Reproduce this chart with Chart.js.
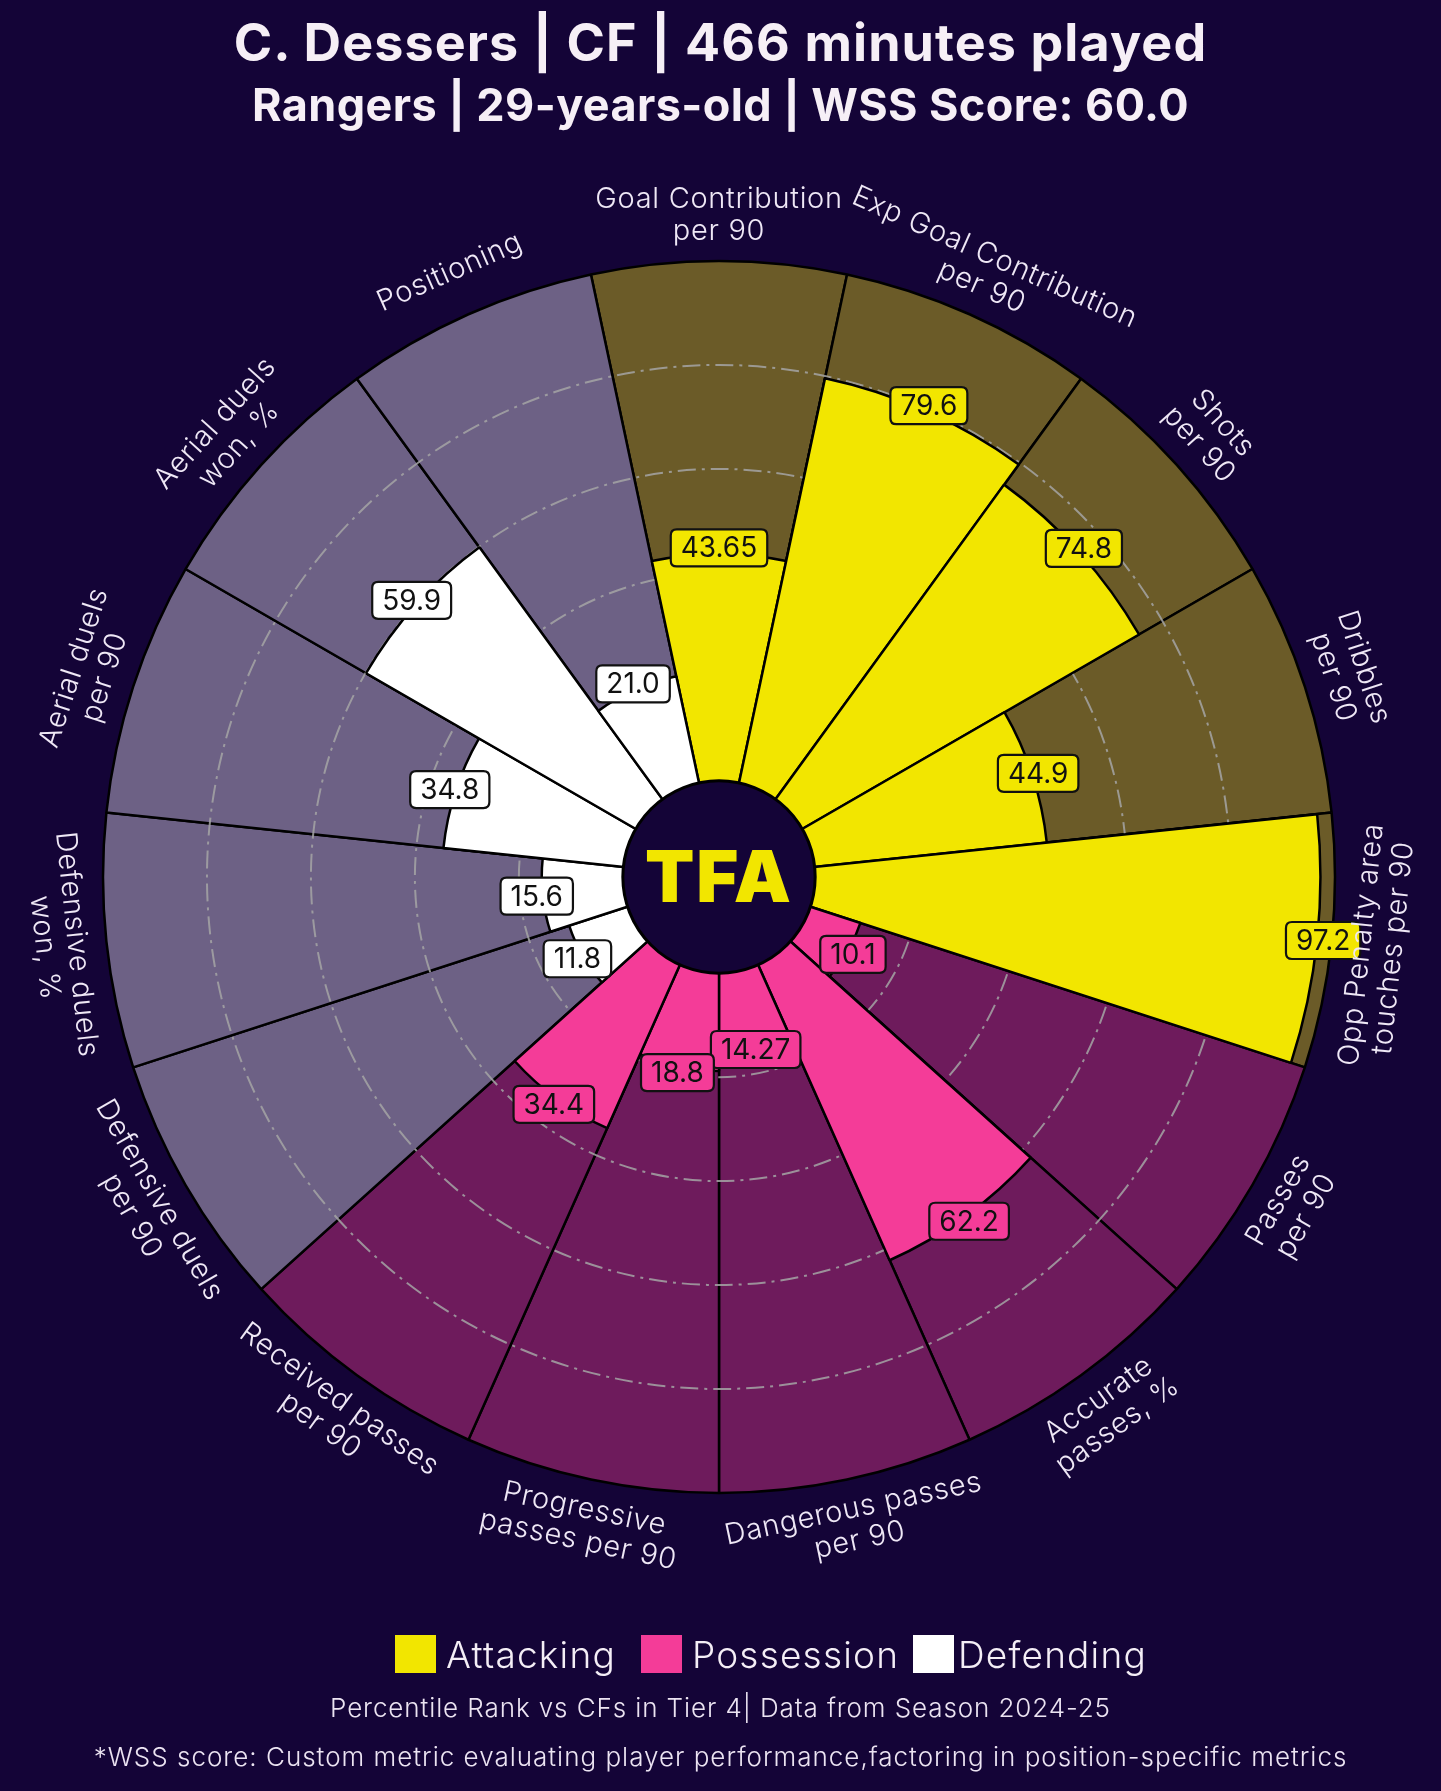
<!DOCTYPE html>
<html><head><meta charset="utf-8">
<script src="https://cdn.jsdelivr.net/npm/chart.js@4.4.1/dist/chart.umd.min.js"></script>
<style>
html,body{margin:0;padding:0;background:#140437;}
#wrap{position:relative;width:1441px;height:1791px;overflow:hidden;background:#140437;}
canvas{position:absolute;left:0;top:0;}
.t{position:absolute;left:0;width:1441px;text-align:center;color:#f6eff6;font-family:Inter,"Open Sans",sans-serif;white-space:nowrap;line-height:1;}
#title{top:17px;font-size:52px;font-weight:700;letter-spacing:1.1px;}
#subtitle{top:82px;font-size:45px;font-weight:700;letter-spacing:0.4px;}
.sq{position:absolute;width:41px;height:38px;top:1635px;}
.lg{position:absolute;top:1636px;font-size:37px;line-height:1;color:#f4eef6;font-family:Inter,sans-serif;font-weight:300;white-space:nowrap;letter-spacing:1.2px;}
#f1{top:1695px;font-size:26px;font-weight:300;color:#ece4f2;letter-spacing:0.9px;}
#f2{top:1744px;font-size:26px;font-weight:300;color:#ece4f2;letter-spacing:1px;}
</style></head>
<body><div id="wrap">
<canvas id="c" width="1441" height="1791"></canvas>
<div class="t" id="title">C. Dessers | CF | 466 minutes played</div>
<div class="t" id="subtitle">Rangers | 29-years-old | WSS Score: 60.0</div>
<div id="legend"></div>
<div class="t" id="f1">Percentile Rank vs CFs in Tier 4| Data from Season 2024-25</div>
<div class="t" id="f2">*WSS score: Custom metric evaluating player performance,factoring in position-specific metrics</div>
</div>
<script>
// ---- data ----
const categories = [
  "Goal Contribution\nper 90",
  "Exp Goal Contribution\nper 90",
  "Shots\nper 90",
  "Dribbles\nper 90",
  "Opp Penalty area\ntouches per 90",
  "Passes\nper 90",
  "Accurate\npasses, %",
  "Dangerous passes\nper 90",
  "Progressive\npasses per 90",
  "Received passes\nper 90",
  "Defensive duels\nper 90",
  "Defensive duels\nwon, %",
  "Aerial duels\nper 90",
  "Aerial duels\nwon, %",
  "Positioning"
];
const values = [43.65, 79.6, 74.8, 44.9, 97.2, 10.1, 62.2, 14.27, 18.8, 34.4, 11.8, 15.6, 34.8, 59.9, 21.0];
const groups = ["Attacking","Attacking","Attacking","Attacking","Attacking",
  "Possession","Possession","Possession","Possession","Possession",
  "Defending","Defending","Defending","Defending","Defending"];
const groupNames = ["Attacking","Possession","Defending"];
const maxValues = categories.map(() => 100);
const gridValues = [20, 40, 60, 80];

// ---- styles ----
const BG = "#140437";
const groupColor = {Attacking:"#f2e600", Possession:"#f43c98", Defending:"#ffffff"};
const groupBg = {Attacking:"#6b5b28", Possession:"#6e1b5c", Defending:"#6d6185"};
const legendX = {Attacking:[395,446], Possession:[641,692], Defending:[913,958]};

// legend (HTML)
const lg = document.getElementById('legend');
groupNames.forEach(g => {
  const s = document.createElement('div'); s.className='sq';
  s.style.left = legendX[g][0]+'px'; s.style.background = groupColor[g]; lg.appendChild(s);
  const t = document.createElement('div'); t.className='lg';
  t.style.left = legendX[g][1]+'px'; t.textContent = g; lg.appendChild(t);
});

function fmt(v){ return Number.isInteger(v) ? v.toFixed(1) : String(v); }

function roundRect(ctx,x,y,w,h,r){
  ctx.beginPath();
  ctx.moveTo(x+r,y); ctx.lineTo(x+w-r,y); ctx.quadraticCurveTo(x+w,y,x+w,y+r);
  ctx.lineTo(x+w,y+h-r); ctx.quadraticCurveTo(x+w,y+h,x+w-r,y+h);
  ctx.lineTo(x+r,y+h); ctx.quadraticCurveTo(x,y+h,x,y+h-r);
  ctx.lineTo(x,y+r); ctx.quadraticCurveTo(x,y,x+r,y); ctx.closePath();
}

const pizza = {
  id:'pizza',
  beforeDatasetDraw(chart, args){
    if (args.index !== 0) return;
    const s = chart.scales.r, ctx = chart.ctx;
    ctx.save();
    ctx.strokeStyle = "rgba(165,165,165,0.85)";
    ctx.lineWidth = 2;
    ctx.setLineDash([18,6,3,6]);
    gridValues.forEach(v => {
      ctx.beginPath();
      ctx.arc(s.xCenter, s.yCenter, s.getDistanceFromCenterForValue(v), 0, Math.PI*2);
      ctx.stroke();
    });
    ctx.restore();
  },
  afterDatasetsDraw(chart){
    const s = chart.scales.r, ctx = chart.ctx;
    const cx = s.xCenter, cy = s.yCenter;
    // centre circle with logo
    const r0 = s.getDistanceFromCenterForValue(0);
    ctx.save();
    ctx.beginPath(); ctx.arc(cx, cy, r0, 0, Math.PI*2);
    ctx.fillStyle = BG; ctx.fill();
    ctx.lineWidth = 3; ctx.strokeStyle = "#000"; ctx.stroke();
    ctx.fillStyle = "#f2e600";
    ctx.font = "900 72px Inter, sans-serif";
    ctx.letterSpacing = "2px";
    ctx.textAlign = "center"; ctx.textBaseline = "middle";
    ctx.fillText("TFA", cx, cy + 3);
    ctx.restore();

    // value labels
    const meta = chart.getDatasetMeta(0);
    ctx.save();
    ctx.font = "400 28px Inter, sans-serif";
    ctx.textAlign = "center"; ctx.textBaseline = "middle";
    meta.data.forEach((arc, i) => {
      const mid = (arc.startAngle + arc.endAngle)/2;
      const r = arc.outerRadius + 6;
      const x = arc.x + r*Math.cos(mid), y = arc.y + r*Math.sin(mid);
      const txt = fmt(values[i]);
      const w = ctx.measureText(txt).width + 20, h = 37;
      roundRect(ctx, x - w/2, y - h/2, w, h, 6);
      ctx.fillStyle = groupColor[groups[i]]; ctx.fill();
      ctx.lineWidth = 2.2; ctx.strokeStyle = "#111"; ctx.stroke();
      ctx.fillStyle = "#111";
      ctx.fillText(txt, x, y + 1);
    });
    ctx.restore();

    // category labels
    ctx.save();
    ctx.font = "300 29px Inter, sans-serif";
    ctx.letterSpacing = "0.7px";
    ctx.fillStyle = "#efe8f6";
    ctx.textAlign = "center"; ctx.textBaseline = "middle";
    const R = s.drawingArea + 46;
    meta.data.forEach((arc, i) => {
      const mid = (arc.startAngle + arc.endAngle)/2;
      const x = cx + R*Math.cos(mid), y = cy + R*Math.sin(mid);
      let th = (mid*180/Math.PI) + 90; // clockwise from top
      th = ((th % 360) + 540) % 360 - 180;
      let rot = th;
      if (th > 90) rot = th - 180; else if (th < -90) rot = th + 180;
      const lines = categories[i].split("\n");
      const lh = 32;
      ctx.save();
      ctx.translate(x, y); ctx.rotate(rot*Math.PI/180);
      lines.forEach((ln, k) => {
        ctx.fillText(ln, 0, (k - (lines.length-1)/2)*lh);
      });
      ctx.restore();
    });
    ctx.restore();
  }
};

new Chart(document.getElementById('c'), {
  type: 'polarArea',
  data: {
    labels: categories,
    datasets: [
      { data: values, backgroundColor: groups.map(g => groupColor[g]), borderColor: "#000", borderWidth: 2.5 },
      { data: maxValues, backgroundColor: groups.map(g => groupBg[g]), borderColor: "#000", borderWidth: 2.5 }
    ]
  },
  options: {
    responsive: false,
    animation: false,
    layout: { padding: { left: 103, right: 106, top: 261, bottom: 298 } },
    plugins: { legend: { display: false }, tooltip: { enabled: false }, title: { display: false } },
    scales: {
      r: {
        min: -18.5, max: 100, beginAtZero: false, startAngle: -12,
        ticks: { display: false },
        grid: { display: false },
        angleLines: { display: false },
        pointLabels: { display: false }
      }
    }
  },
  plugins: [pizza]
});
</script>
</body></html>
